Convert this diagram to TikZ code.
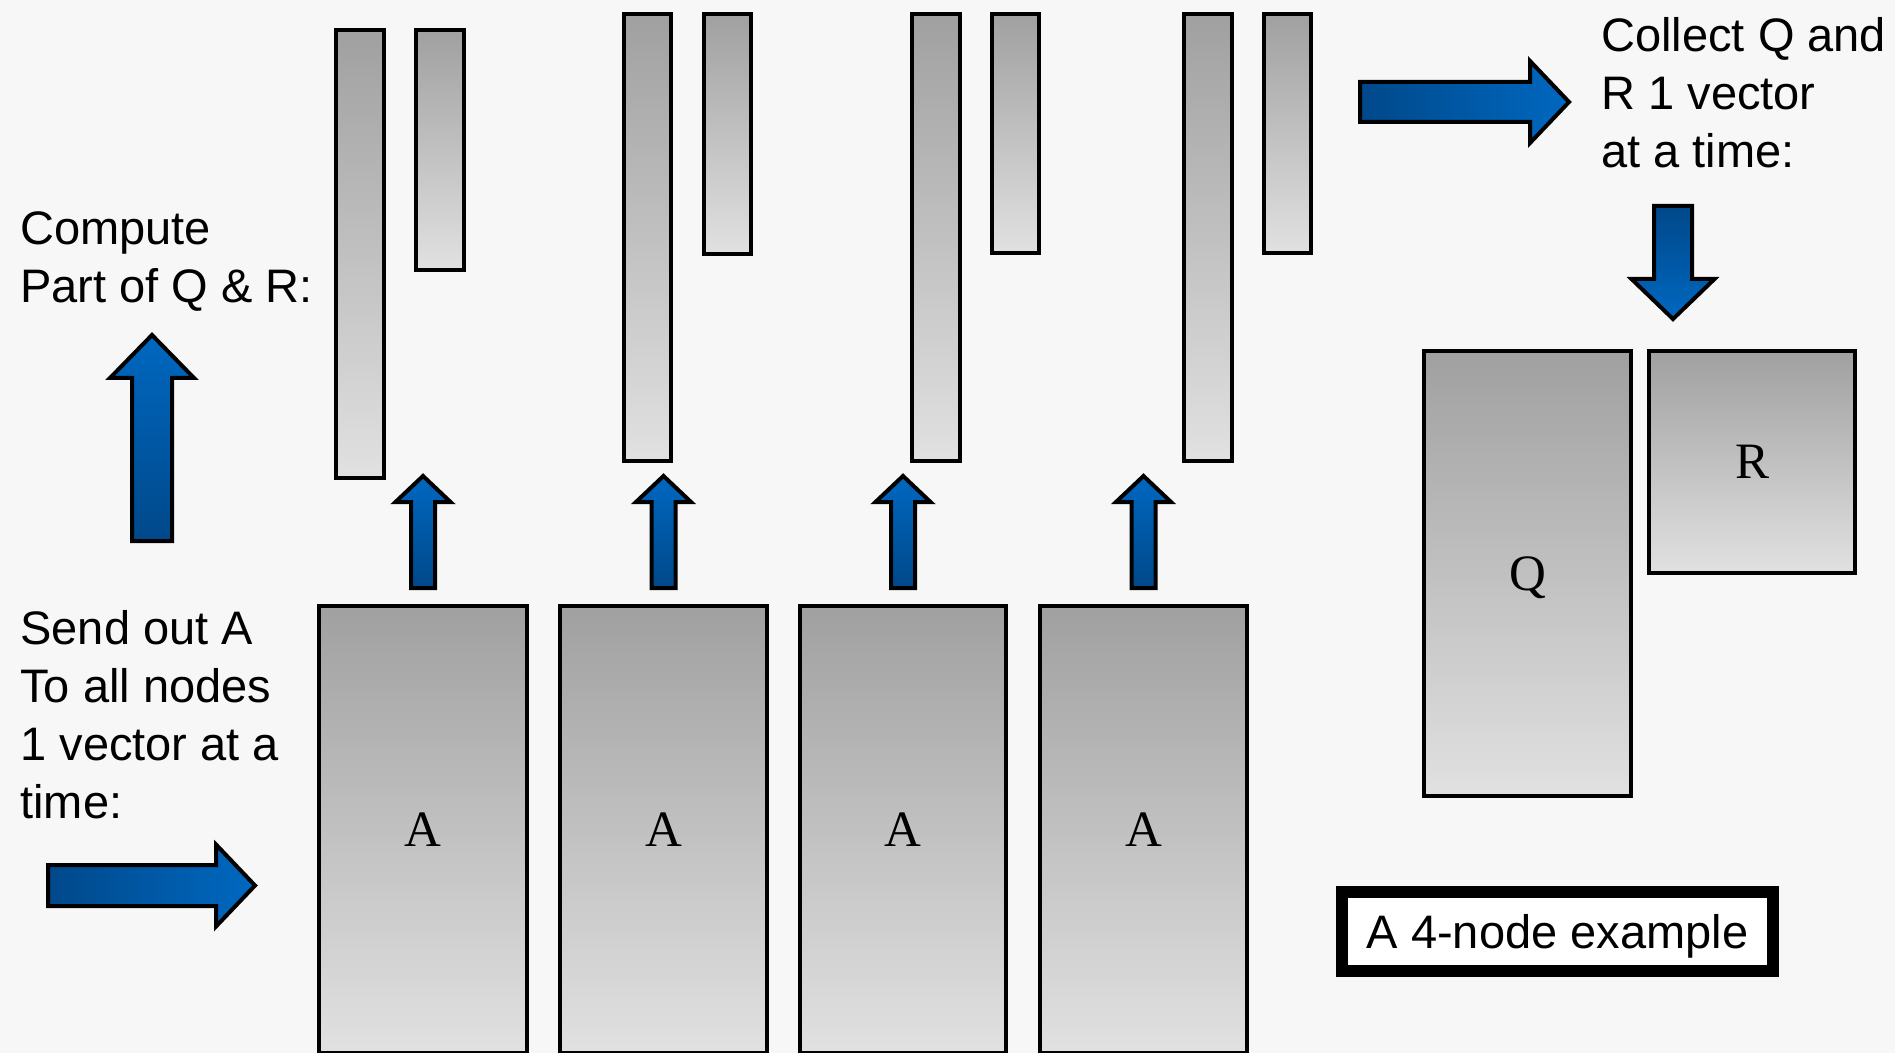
\documentclass[tikz,border=0pt]{standalone}
\usepackage{fontspec}
\setmainfont{Liberation Sans}
\newfontfamily\labelserif{Liberation Serif}
\usetikzlibrary{calc}

\definecolor{paper}{RGB}{247,247,247}
\definecolor{bardark}{RGB}{160,160,160}
\definecolor{barlight}{RGB}{225,225,225}
\definecolor{bluedark}{RGB}{0,72,138}
\definecolor{bluelight}{RGB}{0,104,192}

\tikzset{
  block/.style={rectangle, draw=black, line width=2pt, top color=bardark,
    bottom color=barlight, inner sep=0pt,
    font=\labelserif\fontsize{25.5}{30}\selectfont, text height=16.9pt, text depth=0pt},
  arrowbody/.style={draw=black, line width=2pt, line join=miter},
  upshade/.style={top color=bluelight, bottom color=bluedark},
  downshade/.style={top color=bluedark, bottom color=bluelight},
  rightshade/.style={left color=bluedark, right color=bluelight},
  caption/.style={font=\fontsize{23.5}{29}\selectfont, align=left, inner sep=0pt},
  tagbox/.style={rectangle, draw=black, line width=6pt, fill=white, inner sep=0pt,
    font=\fontsize{23.5}{29}\selectfont, text height=16.8pt, text depth=0pt}
}

% gray matrix block from outer edges (px): name, x1, y1, x2, y2, label
\newcommand\grayblock[6]{%
  \node[block, minimum width={((#4)-(#2)-4)*0.5pt}, minimum height={((#5)-(#3)-4)*0.5pt}]
    (#1) at ({((#2)+(#4))/2},{((#3)+(#5))/2}) {#6};}

% vertical block arrow: style, cx, y tail, y tip, shaft width, head width, y head base
\newcommand\blkV[7]{%
  \draw[arrowbody,#1] ({#2-#5/2},#3) -- ({#2-#5/2},#7) -- ({#2-#6/2},#7) -- (#2,#4)
    -- ({#2+#6/2},#7) -- ({#2+#5/2},#7) -- ({#2+#5/2},#3) -- cycle;}

% horizontal block arrow: style, cy, x tail, x tip, shaft width, head width, x head base
\newcommand\blkH[7]{%
  \draw[arrowbody,#1] (#3,{#2-#5/2}) -- (#7,{#2-#5/2}) -- (#7,{#2-#6/2}) -- (#4,#2)
    -- (#7,{#2+#6/2}) -- (#7,{#2+#5/2}) -- (#3,{#2+#5/2}) -- cycle;}

% upward block arrow starting at a named point: start, length, shaft w, head w, head len
\newcommand\blkUpFrom[5]{%
  \draw[arrowbody, upshade] (#1) ++({-(#3)/2},0) -- ++(0,{-((#2)-(#5))}) -- ++({-((#4)-(#3))/2},0)
    -- ++({(#4)/2},{-(#5)}) -- ++({(#4)/2},{#5}) -- ++({-((#4)-(#3))/2},0) -- ++(0,{(#2)-(#5)}) -- cycle;}

\begin{document}
\begin{tikzpicture}[x=0.5pt, y=-0.5pt]
  \useasboundingbox (0,0) rectangle (1895,1053);
  \clip (0,0) rectangle (1895,1053);
  \fill[paper] (0,0) rectangle (1895,1053);

  % partial Q and R columns held by each node
  \grayblock{q1}{334}{28}{386}{480}{}
  \grayblock{r1}{414}{28}{466}{272}{}
  \grayblock{q2}{622}{12}{673}{463}{}
  \grayblock{r2}{702}{12}{753}{256}{}
  \grayblock{q3}{910}{12}{962}{463}{}
  \grayblock{r3}{990}{12}{1041}{255}{}
  \grayblock{q4}{1182}{12}{1234}{463}{}
  \grayblock{r4}{1262}{12}{1313}{255}{}

  % copies of A on the four nodes
  \grayblock{A1}{317}{604}{529}{1055}{A}
  \grayblock{A2}{558}{604}{769}{1055}{A}
  \grayblock{A3}{798}{604}{1008}{1055}{A}
  \grayblock{A4}{1038}{604}{1249}{1055}{A}

  % collected result
  \grayblock{Q}{1422}{349}{1633}{798}{Q}
  \grayblock{R}{1647}{349}{1857}{575}{R}

  % node-local compute arrows
  \foreach \i in {1,...,4}{
    \coordinate (s\i) at ($(A\i.north)+(0,-16)$);
    \blkUpFrom{s\i}{112}{24}{55}{26}
  }

  % flow arrows
  \blkV{upshade}{152}{541}{335}{40}{84}{378}
  \blkH{rightshade}{885.5}{48}{255}{41}{82}{216}
  \blkH{rightshade}{102}{1360}{1569}{40}{82}{1530}
  \blkV{downshade}{1673}{206}{319}{38}{83}{279}

  % captions (anchored at the baseline of their last line)
  \node[caption, anchor=base west] (compute) at (20,303) {Compute\\Part of Q \& R:};
  \node[caption, anchor=base west] (sendout) at (20,818) {Send out A\\To all nodes\\1 vector at a\\time:};
  \node[caption, anchor=base west] (collect) at (1601,168) {Collect Q and\\R 1 vector\\at a time:};

  \node[tagbox, minimum width=215.5pt, minimum height=39.5pt] (tag) at (1557.5,931.5) {A 4-node example};
\end{tikzpicture}
\end{document}
